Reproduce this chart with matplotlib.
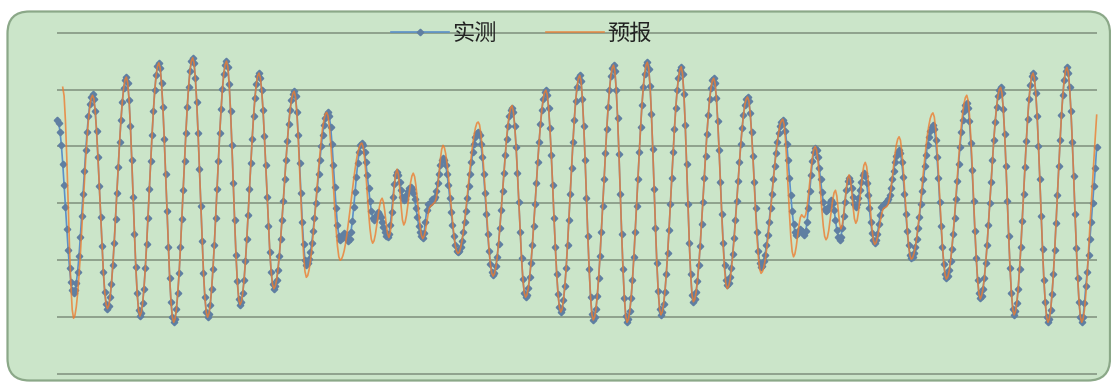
import numpy as np
import matplotlib
matplotlib.use("Agg")
import matplotlib.pyplot as plt
from matplotlib.patches import FancyBboxPatch

plt.rcParams['font.family'] = ['Noto Sans CJK SC', 'DejaVu Sans']

# Hourly water level (cm), observed
measured = [
    146, 141, 126, 102, 70, 33, -6, -45, -82, -114, -138, -153, -158,
    -153, -140, -120, -92, -59, -22, 17, 56, 93, 126, 154, 174, 187, 192,
    184, 162, 127, 82, 31, -24, -75, -120, -155, -177, -185,
    -180, -165, -141, -109, -70, -27, 19, 64, 107, 146, 178, 202, 217, 222,
    212, 182, 136, 77, 12, -53, -112, -158, -188, -198,
    -192, -176, -150, -114, -72, -25, 25, 74, 121, 163, 199, 225, 241, 247,
    238, 211, 169, 114, 52, -14, -76, -131, -173, -200, -209,
    -203, -186, -158, -122, -77, -28, 24, 75, 124, 169, 205, 233, 250, 256,
    247, 220, 178, 123, 61, -5, -67, -122, -164, -191, -200,
    -194, -178, -151, -115, -73, -25, 25, 75, 123, 165, 201, 228, 244, 250,
    240, 209, 162, 102, 36, -30, -90, -137, -168, -178,
    -173, -158, -134, -102, -63, -20, 26, 71, 114, 153, 185, 209, 224, 229,
    221, 199, 164, 118, 67, 12, -39, -85, -120, -142, -150,
    -146, -135, -117, -93, -63, -30, 5, 42, 77, 110, 140, 164, 182, 193, 197,
    188, 161, 121, 71, 18, -32, -72, -99, -108,
    -105, -98, -85, -69, -48, -25, 0, 26, 52, 77, 100, 121, 137, 150, 157, 160,
    153, 134, 104, 67, 28, -8, -38, -57, -64,
    -61, -55, -52, -56, -63, -66,
    -62, -50, -31, -7, 20, 47, 71, 90, 102, 106,
    102, 90, 72, 50, 27, 5, -13, -25, -29,
    -26, -19, -16,
    -18, -24, -33, -42, -51, -57, -59,
    -53, -38, -15, 11, 34, 49, 55,
    50, 38, 23, 11, 6,
    8, 14, 21, 27, 29,
    26, 19, 7, -8, -24, -39, -50, -58, -61,
    -52, -32, -11, -2,
    -1, 3, 7, 8,
    12, 22, 36, 52, 67, 76, 80,
    77, 67, 51, 32, 9, -15, -38, -57, -73, -83, -86,
    -84, -77, -66, -51, -33, -13, 9, 30, 52, 72, 90, 105, 116, 123, 125,
    120, 105, 82, 52, 18, -19, -53, -83, -106, -121, -126,
    -122, -111, -94, -71, -43, -12, 21, 54, 85, 113, 136, 153, 164, 168,
    160, 136, 99, 53, 2, -50, -96, -133, -157, -165,
    -161, -149, -130, -105, -74, -39, -2, 36, 73, 108, 139, 164, 183, 195, 199,
    191, 168, 132, 85, 33, -25, -77, -124, -160, -183, -191,
    -186, -170, -146, -113, -73, -29, 17, 63, 107, 147, 180, 204, 220, 225,
    215, 184, 136, 77, 10, -57, -116, -164, -195, -205,
    -200, -186, -162, -131, -93, -50, -4, 42, 88, 131, 169, 200, 224, 238, 243,
    232, 200, 150, 87, 17, -53, -116, -166, -198, -209,
    -204, -189, -166, -134, -95, -51, -4, 43, 90, 134, 173, 205, 228, 243, 248,
    237, 206, 157, 95, 26, -43, -105, -154, -185, -196,
    -191, -177, -155, -124, -87, -46, -1, 45, 90, 131, 168, 199, 221, 235, 240,
    228, 192, 137, 69, -2, -70, -125, -161, -173,
    -169, -156, -136, -108, -75, -37, 3, 44, 84, 122, 155, 183, 203, 216, 220,
    211, 185, 145, 94, 38, -18, -69, -109, -135, -144,
    -140, -130, -113, -89, -61, -30, 4, 39, 73, 104, 132, 156, 173, 183, 187,
    180, 159, 125, 84, 38, -9, -50, -84, -105, -112,
    -110, -102, -90, -74, -55, -32, -8, 17, 42, 66, 89, 108, 124, 136, 143, 146,
    141, 127, 105, 77, 45, 14, -14, -36, -50, -55,
    -52, -48, -45, -48, -52, -55,
    -49, -33, -8, 21, 50, 75, 91, 97,
    93, 81, 63, 42, 20, 2, -10, -14,
    -11, -4, 3, 6,
    1, -12, -29, -47, -59, -64,
    -59, -44, -22, 2, 24, 39, 44,
    39, 27, 11, -1, -6,
    -2, 9, 24, 38, 49, 53,
    48, 35, 15, -9, -32, -52, -65, -70,
    -65, -53, -36, -20, -7, -3,
    -1, 3, 5,
    8, 15, 27, 42, 57, 72, 84, 91, 94,
    88, 72, 47, 16, -18, -49, -74, -90, -96,
    -94, -87, -76, -62, -44, -24, -2, 21, 43, 65, 85, 103, 117, 128, 135, 137,
    131, 112, 82, 45, 3, -39, -76, -106, -125, -131,
    -128, -118, -102, -80, -54, -25, 7, 39, 70, 99, 125, 147, 163, 173, 176,
    168, 144, 106, 58, 5, -48, -96, -134, -158, -166,
    -162, -150, -131, -105, -74, -38, 0, 38, 76, 112, 143, 169, 188, 200, 204,
    194, 166, 122, 66, 4, -58, -114, -158, -186, -196,
    -190, -175, -150, -116, -76, -31, 17, 64, 109, 149, 183, 208, 224, 229,
    220, 194, 154, 101, 42, -22, -81, -134, -174, -200, -209,
    -203, -187, -160, -125, -82, -35, 15, 65, 112, 155, 190, 217, 233, 239,
    230, 204, 162, 108, 48, -18, -78, -132, -174, -200, -209,
    -200, -175, -145, -120, -90, -62, -33, 0, 30, 62, 99,
]

# Hourly water level (cm), predicted; first hours have no prediction
forecast = [
    None, None, None, None,
    204, 189, 145, 79, 1, -77, -143, -187, -202,
    -197, -182, -159, -128, -91, -50, -6, 38, 79, 116, 147, 170, 185, 190,
    184, 162, 127, 82, 31, -24, -75, -120, -155, -177, -185,
    -180, -165, -141, -109, -70, -27, 19, 64, 107, 146, 178, 202, 217, 222,
    212, 182, 136, 77, 12, -53, -112, -158, -188, -198,
    -192, -176, -150, -114, -72, -25, 25, 74, 121, 163, 199, 225, 241, 247,
    238, 211, 169, 114, 52, -14, -76, -131, -173, -200, -209,
    -203, -186, -158, -122, -77, -28, 24, 75, 124, 169, 205, 233, 250, 256,
    247, 220, 178, 123, 61, -5, -67, -122, -164, -191, -200,
    -194, -178, -151, -115, -73, -25, 25, 75, 123, 165, 201, 228, 244, 250,
    240, 209, 162, 102, 36, -30, -90, -137, -168, -178,
    -173, -158, -134, -102, -63, -20, 26, 71, 114, 153, 185, 209, 224, 229,
    221, 199, 164, 118, 67, 12, -39, -85, -120, -142, -150,
    -146, -135, -117, -93, -63, -30, 5, 42, 77, 110, 140, 164, 182, 193, 197,
    187, 159, 115, 62, 5, -48, -92, -120, -130,
    -127, -117, -102, -82, -57, -30, 0, 30, 60, 87, 112, 132, 147, 157, 160,
    154, 135, 106, 70, 30, -10, -46, -75, -94, -100,
    -98, -92, -83, -70, -54, -36, -17, 3, 23, 42, 60, 76, 89, 98, 104, 106,
    99, 80, 52, 18, -16, -44, -63, -70,
    -66, -55, -39, -22, -6, 5, 9,
    2, -15, -36, -53, -60,
    -52, -30, 0, 30, 52, 60,
    51, 26, -4, -29, -38,
    -33, -21, -3, 18, 36, 48, 53,
    47, 31, 8, -17, -40, -56, -62,
    -58, -48, -33, -19, -8, -4,
    -3, 0, 2,
    9, 27, 52, 77, 95, 102,
    98, 87, 69, 47, 21, -7, -33, -55, -73, -84, -88,
    -86, -78, -66, -50, -30, -8, 16, 40, 63, 85, 105, 121, 133, 141, 143,
    138, 122, 96, 64, 27, -12, -49, -81, -107, -123, -128,
    -124, -113, -95, -72, -43, -11, 22, 55, 87, 116, 139, 157, 168, 172,
    160, 136, 99, 53, 2, -50, -96, -133, -157, -165,
    -161, -149, -130, -105, -74, -39, -2, 36, 73, 108, 139, 164, 183, 195, 199,
    191, 168, 132, 85, 33, -25, -77, -124, -160, -183, -191,
    -186, -170, -146, -113, -73, -29, 17, 63, 107, 147, 180, 204, 220, 225,
    215, 184, 136, 77, 10, -57, -116, -164, -195, -205,
    -200, -186, -162, -131, -93, -50, -4, 42, 88, 131, 169, 200, 224, 238, 243,
    232, 200, 150, 87, 17, -53, -116, -166, -198, -209,
    -204, -189, -166, -134, -95, -51, -4, 43, 90, 134, 173, 205, 228, 243, 248,
    237, 206, 157, 95, 26, -43, -105, -154, -185, -196,
    -191, -177, -155, -124, -87, -46, -1, 45, 90, 131, 168, 199, 221, 235, 240,
    228, 192, 137, 69, -2, -70, -125, -161, -173,
    -169, -156, -136, -108, -75, -37, 3, 44, 84, 122, 155, 183, 203, 216, 220,
    211, 185, 144, 92, 35, -22, -74, -115, -141, -150,
    -146, -136, -118, -94, -66, -34, 1, 36, 71, 103, 131, 155, 173, 183, 187,
    180, 158, 123, 80, 32, -16, -59, -94, -116, -123,
    -120, -113, -100, -83, -63, -39, -14, 13, 39, 64, 88, 108, 125, 138, 145, 148,
    139, 113, 73, 27, -19, -59, -85, -94,
    -89, -76, -57, -39, -25, -20,
    -23, -25,
    -20, -7, 14, 38, 61, 82, 95, 100,
    94, 76, 49, 18, -13, -40, -58, -64,
    -60, -48, -30, -11, 7, 19, 23,
    13, -11, -35, -45,
    -39, -21, 3, 26, 44, 50,
    42, 21, -6, -27, -35,
    -30, -15, 7, 30, 52, 67, 72,
    65, 45, 16, -16, -45, -65, -72,
    -69, -60, -47, -33, -20, -11, -8,
    -7, -5,
    -1, 9, 26, 45, 67, 87, 103, 113, 117,
    111, 92, 63, 28, -9, -44, -73, -92, -98,
    -96, -88, -76, -61, -41, -19, 5, 31, 56, 80, 102, 122, 137, 149, 156, 159,
    152, 131, 99, 58, 13, -32, -73, -105, -126, -133,
    -129, -119, -102, -80, -52, -22, 12, 45, 79, 109, 137, 159, 176, 186, 190,
    181, 156, 116, 67, 11, -45, -94, -134, -159, -168,
    -162, -150, -131, -105, -74, -38, 0, 38, 76, 112, 143, 169, 188, 200, 204,
    194, 166, 122, 66, 4, -58, -114, -158, -186, -196,
    -190, -175, -150, -116, -76, -31, 17, 64, 109, 149, 183, 208, 224, 229,
    220, 194, 154, 101, 42, -22, -81, -134, -174, -200, -209,
    -203, -187, -160, -125, -82, -35, 15, 65, 112, 155, 190, 217, 233, 239,
    230, 204, 162, 108, 48, -18, -78, -132, -174, -200, -209,
    -203, -187, -160, -125, -82, -40, 0, 40, 80, 118, 155,
]

series_names = ['实测', '预报']
grid_levels = [-300, -200, -100, 0, 100, 200, 300]

obs = np.array(measured, dtype=float)
pred = np.array(forecast, dtype=float)
x_obs = np.arange(len(obs))
x_pred = np.arange(len(pred))

fig = plt.figure(figsize=(11.11, 3.83), dpi=100)
fig.patch.set_facecolor('white')

# rounded light-green chart area
panel = FancyBboxPatch((0.075, 0.025), 11.025, 3.69,
                       boxstyle="round,pad=0,rounding_size=0.22",
                       transform=fig.dpi_scale_trans,
                       facecolor='#CBE5C9', edgecolor='#8BA888',
                       linewidth=1.6, zorder=-5)
fig.add_artist(panel)

ax = fig.add_axes([0.0516, 0.0086, 0.9355, 0.9209])
ax.patch.set_alpha(0)
ax.set_xlim(0, max(len(obs), len(pred)) - 1)
ax.set_ylim(-310, 310)
ax.set_yticks(grid_levels)
ax.set_xticks([])
ax.grid(axis='y', color='#8FA28D', linewidth=1.4)
ax.set_axisbelow(True)
ax.tick_params(length=0, labelleft=False, labelbottom=False)
for s in ax.spines.values():
    s.set_visible(False)

ax.plot(x_obs, obs, color='#5B90C8', linewidth=1.2, marker='D',
        markersize=3.3, markerfacecolor='#5F7FA2', markeredgecolor='#5F7FA2',
        clip_on=False, label=series_names[0], zorder=3)
ax.plot(x_pred, pred, color='#ED7D31', linewidth=1.2, alpha=0.8,
        clip_on=False, label=series_names[1], zorder=4)

leg = ax.legend(loc='center', bbox_to_anchor=(0.4694, 0.9138),
                bbox_transform=fig.transFigure, ncol=2, frameon=False,
                fontsize=16, handlelength=2.6, handletextpad=0.15,
                columnspacing=2.2, borderaxespad=0, borderpad=0)
for t in leg.get_texts():
    t.set_color('#222222')

fig.savefig('out.png', dpi=100)
